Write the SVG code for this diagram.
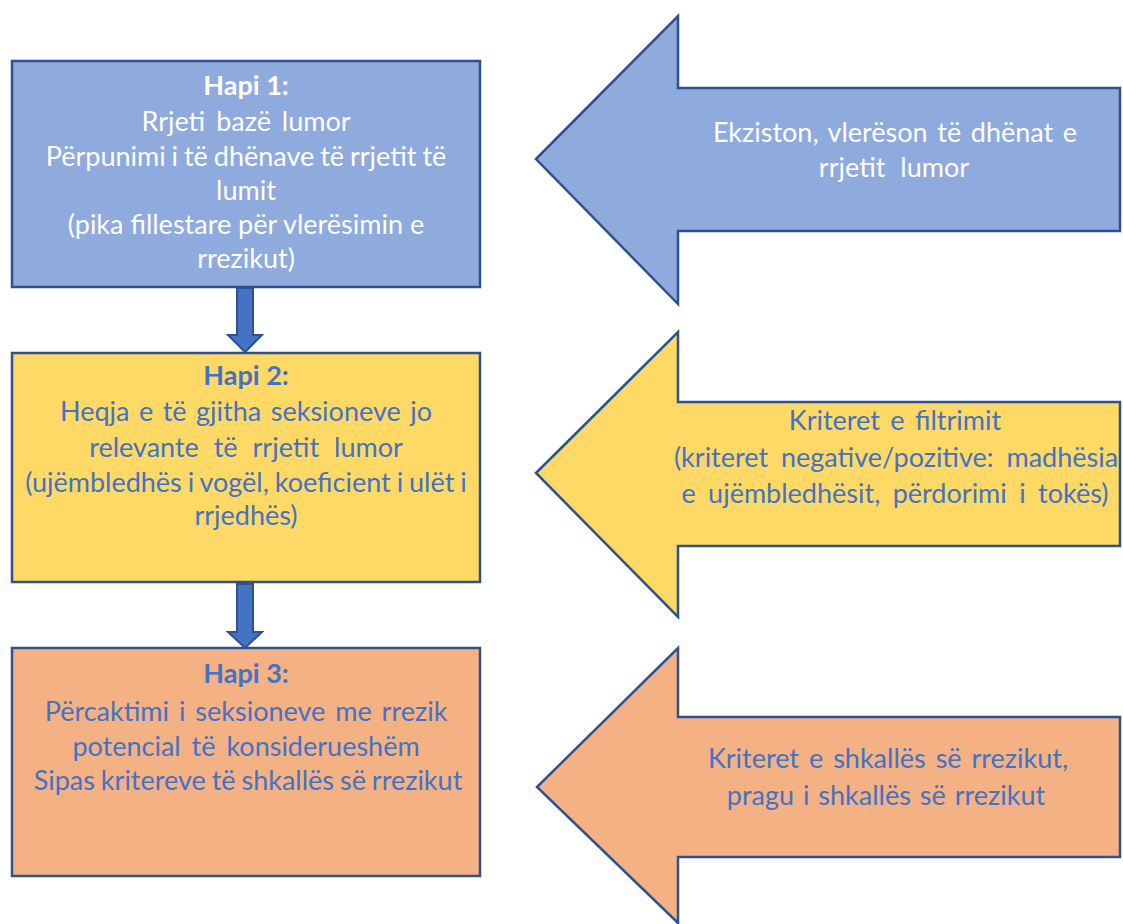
<svg xmlns="http://www.w3.org/2000/svg" width="1123" height="924" viewBox="0 0 1123 924">
<style>
.box{stroke:#2F528F;stroke-width:2.5}
.blue{fill:#8FAADC}
.yellow{fill:#FFD966}
.orange{fill:#F4B183}
.down{fill:#4472C4;stroke:#2F528F;stroke-width:2}
text{font-family:Lato,"Liberation Sans",sans-serif;font-size:27px;text-anchor:middle}
.w{fill:#FFFFFF}
.b{fill:#4472C4}
.h{font-weight:bold}
</style>
<rect width="1123" height="924" fill="#FFFFFF"/>
<g id="connectors">
<path class="down" d="M237,288 L253,288 L253,335 L262,335 L245,352 L228,335 L237,335 Z"/>
<path class="down" d="M237,584 L253,584 L253,632 L262,632 L245,648 L228,632 L237,632 Z"/>
</g>
<g id="step1">
<rect class="box blue" x="12" y="61" width="468" height="226"/>
<text class="w h" x="246" y="95">Hapi 1:</text>
<text class="w" x="246" y="131" word-spacing="4">Rrjeti bazë lumor</text>
<text class="w" x="246" y="166" word-spacing="-1">Përpunimi i të dhënave të rrjetit të</text>
<text class="w" x="246" y="200">lumit</text>
<text class="w" x="246" y="234">(pika fillestare për vlerësimin e</text>
<text class="w" x="246" y="268">rrezikut)</text>
</g>
<g id="step2">
<rect class="box yellow" x="12" y="353" width="468" height="229"/>
<text class="b h" x="246" y="385">Hapi 2:</text>
<text class="b" x="246" y="421" word-spacing="2.6">Heqja e të gjitha seksioneve jo</text>
<text class="b" x="246" y="457" word-spacing="8">relevante të rrjetit lumor</text>
<text class="b" x="246" y="492" word-spacing="-1">(ujëmbledhës i vogël, koeficient i ulët i</text>
<text class="b" x="246" y="525">rrjedhës)</text>
</g>
<g id="step3">
<rect class="box orange" x="12" y="648" width="468" height="228"/>
<text class="b h" x="246" y="683">Hapi 3:</text>
<text class="b" x="246" y="721" word-spacing="3">Përcaktimi i seksioneve me rrezik</text>
<text class="b" x="246" y="756" word-spacing="4">potencial të konsiderueshëm</text>
<text class="b" x="248" y="790" word-spacing="-1">Sipas kritereve të shkallës së rrezikut</text>
</g>
<g id="input1">
<path class="box blue" d="M536,159 L678,16 L678,88 L1120,88 L1120,231 L678,231 L678,304 Z"/>
<text class="w" x="895" y="142" word-spacing="2.7">Ekziston, vlerëson të dhënat e</text>
<text class="w" x="894" y="177" word-spacing="8">rrjetit lumor</text>
</g>
<g id="input2">
<path class="box yellow" d="M536,473 L678,332 L678,402 L1120,402 L1120,546 L678,546 L678,617 Z"/>
<text class="b" x="895" y="430" word-spacing="3.5">Kriteret e filtrimit</text>
<text class="b" x="896" y="467" word-spacing="6">(kriteret negative/pozitive: madhësia</text>
<text class="b" x="895" y="503" word-spacing="5.5">e ujëmbledhësit, përdorimi i tokës)</text>
</g>
<g id="input3">
<path class="box orange" d="M537,787 L678,648 L678,717 L1120,717 L1120,857 L678,857 L678,923 Z"/>
<text class="b" x="888" y="768" word-spacing="3">Kriteret e shkallës së rrezikut,</text>
<text class="b" x="886" y="805" word-spacing="2">pragu i shkallës së rrezikut</text>
</g>
</svg>
